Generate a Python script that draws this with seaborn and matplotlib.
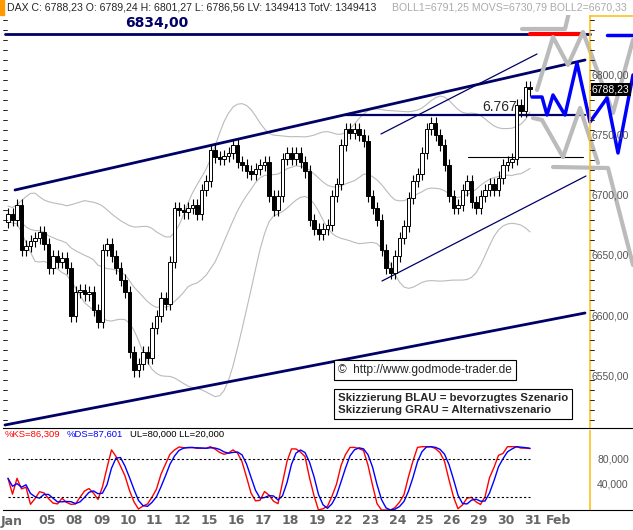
import numpy as np
import pandas as pd
import matplotlib
matplotlib.use("Agg")
import matplotlib.pyplot as plt
import seaborn as sns

sns.set_style("white")
plt.rcParams['font.family'] = ['Liberation Sans', 'DejaVu Sans']

closes = [6685, 6680, 6692, 6655, 6658, 6662, 6665, 6670, 6660, 6640,
          6650, 6645, 6648, 6640, 6600, 6620, 6622, 6618, 6620, 6605,
          6595, 6655, 6660, 6650, 6640, 6630, 6620, 6570, 6555, 6560,
          6570, 6565, 6590, 6600, 6615, 6610, 6645, 6690, 6688, 6686,
          6690, 6692, 6685, 6705, 6712, 6738, 6732, 6730, 6733, 6735,
          6742, 6728, 6725, 6720, 6718, 6722, 6725, 6728, 6700, 6688,
          6700, 6730, 6735, 6730, 6735, 6728, 6720, 6680, 6672, 6668,
          6672, 6676, 6700, 6710, 6742, 6755, 6752, 6755, 6750, 6745,
          6700, 6690, 6680, 6655, 6640, 6636, 6650, 6665, 6675, 6698,
          6712, 6718, 6735, 6755, 6760, 6750, 6742, 6725, 6700, 6690,
          6692, 6705, 6712, 6695, 6690, 6700, 6705, 6710, 6705, 6715,
          6725, 6728, 6730, 6775, 6770, 6790, 6788]
first_open = 6678
day_labels = ["Jan", "05", "08", "09", "10", "11", "12", "15", "16", "17", "18",
              "19", "22", "23", "24", "25", "26", "29", "30", "31", "Feb"]
day_px = [12, 47, 74, 102, 128, 154, 182, 209, 236, 263, 290, 317, 344, 371,
          398, 425, 452, 479, 506, 533, 559]
price_ticks = [6800, 6750, 6700, 6650, 6600, 6550]
resistance = 6834
level_mid = 6767
level_low = 6732

def bx(px):
    return (px - 8) / 4.5
def py(y):
    return 6800 - (y - 75) / 1.206

n = len(closes)
idx = np.arange(n)
c = np.array(closes, float)
o = np.concatenate([[first_open], c[:-1]])
hi = np.maximum(o, c) + 5
lo = np.minimum(o, c) - 5

s = pd.Series(c)
mid = s.rolling(20, min_periods=1).mean()
sd = s.rolling(20, min_periods=2).std().bfill()
up = (mid + 1.8 * sd).rolling(4, min_periods=1).mean()
dn = (mid - 1.8 * sd).rolling(4, min_periods=1).mean()
hh = s.rolling(10, min_periods=1).max()
ll = s.rolling(10, min_periods=1).min()
k = ((s - ll) / (hh - ll).replace(0, np.nan) * 100).fillna(50)
ks = k.rolling(3, min_periods=1).mean()
ds = ks.rolling(3, min_periods=1).mean()

fig = plt.figure(figsize=(6.33, 5.30), dpi=100)
W, H = 633, 530
ax = fig.add_axes([3 / W, (H - 428) / H, 630 / W, (428 - 15) / H])
ax2 = fig.add_axes([3 / W, (H - 510) / H, 630 / W, (510 - 430) / H])

ax.set_xlim(bx(3), bx(633))
ax.set_ylim(py(428), py(15))

bands = pd.DataFrame({"x": idx, "up": up, "mid": mid, "dn": dn})
for col in ["up", "mid", "dn"]:
    sns.lineplot(data=bands, x="x", y=col, ax=ax, color="#bbbbbb", lw=0.8)

updn = c >= o
ax.vlines(idx, lo, hi, color="black", lw=0.8, zorder=3)
ax.bar(idx[updn], (c - o)[updn], bottom=o[updn], width=0.7, color="white",
       edgecolor="black", lw=0.7, zorder=4)
ax.bar(idx[~updn], (o - c)[~updn], bottom=c[~updn], width=0.7, color="black",
       edgecolor="black", lw=0.7, zorder=4)

navy = "#000066"
ax.plot([bx(5), bx(590)], [resistance, resistance], color=navy, lw=2)
ax.text(bx(157), resistance + 3, "6834,00", color=navy, fontsize=10,
        fontweight="bold", ha="center", va="bottom", family="DejaVu Sans Condensed")
ax.plot([bx(15), bx(585)], [py(190), py(60)], color=navy, lw=2)
ax.plot([bx(5), bx(585)], [py(425), py(313)], color=navy, lw=2)
ax.plot([bx(345), bx(585)], [level_mid, level_mid], color=navy, lw=1.6)
ax.text(bx(500), level_mid + 1, "6.767", fontsize=10, ha="center", va="bottom", zorder=7)
ax.plot([bx(468), bx(583)], [level_low, level_low], color="black", lw=0.8)
ax.plot([bx(382), bx(586)], [py(281), py(176)], color=navy, lw=0.9)
ax.plot([bx(381), bx(537)], [py(134), py(54)], color=navy, lw=0.9)

ax.plot([bx(530), bx(582)], [resistance, resistance], color="red", lw=3, zorder=5)
gray = "#bbbbbb"
for path in [
    [(522, 29), (565, 29), (572, 0)],
    [(537, 90), (553, 37), (568, 65), (583, 32), (613, 113), (633, 40)],
    [(533, 118), (542, 120), (563, 157), (580, 108), (598, 163)],
    [(553, 167), (608, 168), (633, 265)],
]:
    xs, ys = zip(*path)
    ax.plot([bx(v) for v in xs], [py(v) for v in ys], color=gray, lw=3, zorder=5)
blue = [(532, 97), (542, 97), (547, 115), (553, 95), (565, 115), (577, 63),
        (590, 122), (607, 98), (618, 153), (633, 75)]
xs, ys = zip(*blue)
ax.plot([bx(v) for v in xs], [py(v) for v in ys], color="#0000ff", lw=2.5, zorder=6)
ax.plot([bx(607), bx(633)], [py(35), py(35)], color="#0000ff", lw=2.5, zorder=6)

ax.axvline(bx(590), color="#ffc020", lw=1.2, zorder=7)
ax.plot([bx(590), bx(633)], [py(15.5), py(15.5)], color="#ffc020", lw=1.2, zorder=7)
for p in price_ticks:
    ax.text(bx(592), p, f"{p},00", fontsize=7.5, color="#555555", va="center",
            ha="left", zorder=8)
for yy in np.arange(20, 428, 10):
    ax.plot([bx(590), bx(594)], [py(yy), py(yy)], color="black", lw=0.6, zorder=8)
    ax.plot([bx(3), bx(7)], [py(yy), py(yy)], color="black", lw=0.6, zorder=8)
ax.text(bx(592), c[-1], "6788,23", fontsize=7.5, color="white", va="center",
        ha="left", zorder=9, bbox=dict(facecolor="black", edgecolor="none", pad=1))

ax.text(bx(338), py(370), "©  http://www.godmode-trader.de", fontsize=8.6,
        va="center", ha="left", zorder=9,
        bbox=dict(facecolor="white", edgecolor="black", pad=3, lw=0.8))
ax.text(bx(338), py(404), "Skizzierung BLAU = bevorzugtes Szenario\nSkizzierung GRAU = Alternativszenario",
        fontsize=8.2, fontweight="bold", va="center", ha="left", zorder=9,
        linespacing=1.2, bbox=dict(facecolor="white", edgecolor="black", pad=3, lw=0.8))

for a in (ax, ax2):
    a.set_xticks([]); a.set_yticks([])
    a.set_xlabel(""); a.set_ylabel("")
    for sp in a.spines.values():
        sp.set_visible(False)
ax.spines["bottom"].set_visible(True)
ax.spines["bottom"].set_color("black")

fig.patches.append(plt.Rectangle((0, 1 - 15 / H), 4 / W, 15 / H, color="#ff9900",
                                 transform=fig.transFigure, figure=fig))
fig.text(7 / W, 1 - 8 / H, "DAX C: 6788,23 O: 6789,24 H: 6801,27 L: 6786,56 LV: 1349413 TotV: 1349413",
         fontsize=7.6, va="center", ha="left")
fig.text(392 / W, 1 - 8 / H, "BOLL1=6791,25 MOVS=6730,79 BOLL2=6670,33",
         fontsize=7.6, va="center", ha="left", color="#aaaaaa")

ax2.set_xlim(bx(3), bx(633))
ax2.set_ylim(0, (510 - 430) / 0.633)
osc = pd.DataFrame({"x": idx, "ks": ks, "ds": ds})
sns.lineplot(data=osc, x="x", y="ks", ax=ax2, color="red", lw=1)
sns.lineplot(data=osc, x="x", y="ds", ax=ax2, color="blue", lw=1)
ax2.set_xlabel(""); ax2.set_ylabel("")
for lvl in (80, 20):
    ax2.plot([bx(8), bx(530)], [lvl, lvl], color="black", ls=(0, (2, 2)), lw=0.8)
ax2.axvline(bx(590), color="#ffc020", lw=1.2)
ax2.spines["bottom"].set_visible(True)
ax2.spines["bottom"].set_color("black")
for v in (80, 40):
    ax2.text(bx(597), v, f"{v},000", fontsize=7.5, color="#555555", va="center")
ax2.text(bx(5), 120, "%KS=86,309", color="red", fontsize=6.8, va="center")
ax2.text(bx(67), 120, "%DS=87,601", color="blue", fontsize=6.8, va="center")
ax2.text(bx(130), 120, "UL=80,000 LL=20,000", color="black", fontsize=6.8, va="center")

for lab, px in zip(day_labels, day_px):
    fig.text(px / W, 1 - 521 / H, lab, fontsize=9, color="#666666", ha="center",
             va="center", fontweight="bold", family="DejaVu Sans Condensed")

fig.savefig("out.png", dpi=100)
